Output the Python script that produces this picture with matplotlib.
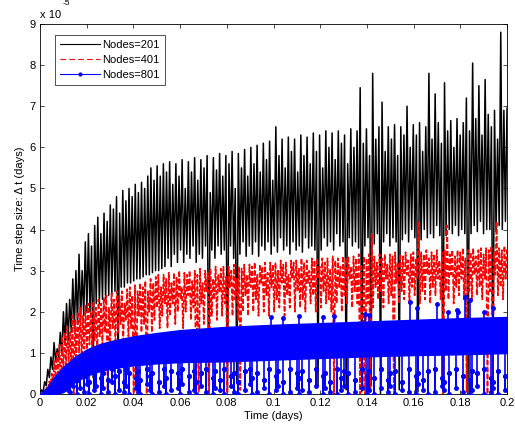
import numpy as np
import matplotlib
matplotlib.use("Agg")
import matplotlib.pyplot as plt
from matplotlib.ticker import FuncFormatter

plt.rcParams['font.family'] = ['Liberation Sans', 'DejaVu Sans']

SCALE = 1e-5  # values below are in units of 1e-5 days

# ---- Nodes=201 (black): alternating trough / peak values ----
black_peaks = [0.1, 0.3, 0.6, 0.9, 1.25, 1.1, 1.5, 2.0, 2.2, 2.3,
               2.8, 3.0, 3.4, 3.0, 3.7, 3.9, 3.6, 4.1, 4.3, 3.9,
               4.4, 4.2, 4.6, 4.5, 4.8, 4.4, 4.95, 4.7, 5.0, 4.8,
               5.1, 4.9, 5.15, 5.0, 5.3, 5.5, 5.2, 5.55, 5.3, 5.6,
               5.4, 5.65, 5.1, 5.6, 5.3, 5.7, 5.0, 5.65, 5.4, 5.75,
               5.2, 5.7, 5.5, 5.8, 4.9, 5.75, 5.45, 5.85, 5.3, 5.8,
               5.6, 5.9, 5.0, 5.85, 5.5, 5.95, 5.3, 6.0, 5.6, 6.05,
               5.4, 6.1, 5.7, 6.15, 5.2, 6.5, 5.8, 6.2, 5.5, 6.25,
               5.9, 6.2, 5.4, 6.3, 5.8, 6.25, 5.6, 6.35, 5.9, 6.3,
               5.5, 6.4, 6.0, 6.35, 5.7, 6.4, 6.1, 6.3, 5.6, 6.45,
               6.0, 6.4, 7.45, 6.1, 6.45, 5.8, 7.8, 6.2, 6.5, 7.1,
               5.9, 6.5, 6.2, 6.55, 5.8, 6.5, 6.3, 7.0, 6.0, 6.55,
               6.3, 6.6, 5.9, 6.5, 7.8, 6.2, 7.3, 6.6, 6.1, 7.57,
               6.4, 6.65, 6.0, 6.7, 6.3, 6.6, 7.2, 6.4, 8.05, 6.7,
               7.5, 6.3, 7.65, 6.8, 6.5, 6.9, 6.2, 8.8, 6.9, 6.95]
black_troughs = [0.0, 0.05, 0.2, 0.4, 0.6, 0.8, 0.9, 1.0, 1.2, 1.3,
                 1.5, 1.6, 1.7, 1.8, 1.9, 2.0, 2.0, 0.4, 2.2, 2.2,
                 2.3, 2.3, 2.4, 2.4, 2.5, 0.6, 2.6, 2.6, 2.7, 2.7,
                 2.75, 2.8, 2.8, 2.85, 2.9, 2.9, 2.95, 3.0, 3.0, 3.05,
                 3.1, 3.3, 3.1, 3.4, 3.2, 3.5, 3.2, 3.4, 3.3, 3.6,
                 3.2, 3.4, 3.3, 3.6, 0.2, 3.5, 3.3, 3.6, 3.4, 3.5,
                 0.1, 3.6, 3.3, 0.3, 3.4, 3.7, 3.35, 3.6, 3.4, 3.7,
                 3.35, 3.6, 3.5, 3.7, 3.4, 3.6, 3.45, 3.8, 3.5, 3.6,
                 3.4, 3.7, 3.5, 3.6, 3.45, 3.8, 3.55, 3.6, 3.5, 0.2,
                 3.5, 3.8, 3.6, 3.7, 3.5, 3.9, 3.6, 3.7, 0.1, 3.8,
                 3.6, 3.7, 3.55, 0.05, 3.6, 3.8, 0.2, 3.65, 3.9, 0.0,
                 3.7, 3.9, 3.6, 3.8, 3.7, 0.1, 3.75, 3.9, 3.7, 4.0,
                 3.8, 0.05, 3.75, 4.0, 3.8, 3.9, 3.8, 4.1, 3.85, 0.1,
                 3.85, 4.0, 3.9, 4.1, 3.85, 4.0, 3.9, 0.0, 3.9, 4.1,
                 3.95, 4.2, 3.9, 4.0, 4.0, 0.1, 3.95, 4.1, 4.0, 4.2]

# ---- Nodes=401 (red dashed) ----
red_peaks = [0.0, 0.05, 0.15, 0.3, 0.5, 0.8, 1.0, 1.2, 1.4, 1.5,
             1.65, 1.5, 1.9, 1.8, 2.0, 2.1, 1.9, 2.15, 2.2, 2.0,
             2.25, 2.1, 2.3, 2.2, 2.35, 2.4, 2.1, 2.45, 2.3, 2.5,
             2.4, 2.5, 2.2, 2.55, 2.6, 2.4, 2.65, 2.5, 2.7, 2.6,
             2.75, 2.5, 2.8, 2.7, 2.85, 2.9, 2.6, 2.9, 2.8, 2.95,
             2.7, 2.95, 2.85, 3.0, 2.6, 2.95, 2.9, 3.0, 2.75, 3.0,
             2.9, 3.05, 2.7, 3.0, 2.95, 3.05, 2.8, 3.1, 2.9, 3.05,
             3.1, 2.85, 3.1, 3.0, 3.15, 2.8, 3.1, 3.05, 3.15, 2.9,
             3.15, 3.1, 3.2, 2.9, 3.15, 3.1, 3.2, 2.95, 3.2, 3.15,
             3.2, 3.0, 3.25, 3.15, 3.2, 2.9, 3.25, 3.2, 3.25, 3.05,
             3.3, 3.2, 3.25, 3.0, 3.3, 3.25, 3.3, 3.1, 3.3, 3.2,
             3.3, 3.05, 3.35, 3.25, 3.3, 3.1, 3.35, 3.3, 3.35, 3.1,
             3.35, 3.3, 3.4, 3.15, 3.35, 3.3, 3.4, 3.9, 3.35, 3.2,
             3.4, 3.3, 3.4, 3.15, 3.4, 3.35, 3.45, 3.2, 3.4, 3.35,
             3.45, 3.25, 3.4, 3.45, 3.3, 4.2, 3.45, 3.4, 3.5, 3.3,
             3.45, 3.4, 3.5, 3.25, 3.45, 3.5, 4.1, 3.4, 3.5, 3.35,
             3.5, 3.45, 3.55, 3.3, 3.5, 3.45, 3.55, 3.35, 3.5, 3.55,
             3.4, 3.55, 3.5, 3.6, 3.45, 4.2, 3.55, 3.5, 3.6, 3.55]
red_troughs = [0.0, 0.0, 0.05, 0.1, 0.2, 0.3, 0.4, 0.5, 0.0, 0.6,
               0.7, 0.8, 0.75, 0.0, 0.9, 1.0, 0.85, 1.1, 1.0, 1.2,
               1.1, 1.3, 1.0, 1.4, 1.2, 1.5, 0.0, 1.3, 1.6, 1.2,
               1.5, 1.7, 1.3, 1.8, 1.4, 1.6, 0.0, 0.1, 1.9, 1.5,
               1.7, 0.0, 2.0, 1.5, 1.8, 2.1, 1.6, 1.9, 2.2, 1.6,
               1.9, 2.2, 1.7, 2.0, 2.3, 1.6, 2.0, 2.4, 1.8, 2.1,
               0.0, 0.05, 2.2, 1.7, 2.5, 0.0, 1.9, 2.3, 1.8, 2.5,
               1.9, 2.2, 0.0, 2.6, 1.9, 2.3, 1.8, 0.1, 2.0, 2.4,
               1.9, 2.6, 2.0, 2.3, 1.9, 2.7, 2.0, 2.4, 1.9, 2.6,
               2.0, 2.3, 2.1, 2.7, 1.9, 2.4, 2.1, 2.8, 2.0, 2.5,
               2.1, 2.3, 2.0, 2.7, 2.2, 2.4, 2.0, 2.8, 2.1, 2.5,
               2.2, 2.3, 2.0, 0.0, 2.2, 2.6, 2.0, 2.4, 2.2, 2.8,
               2.1, 2.5, 2.2, 0.0, 0.1, 0.0, 2.2, 0.05, 2.1, 2.6,
               2.3, 2.5, 2.1, 2.8, 2.2, 2.4, 0.0, 2.7, 2.2, 2.5,
               2.3, 2.9, 2.2, 2.6, 2.4, 2.8, 2.2, 2.5, 2.3, 2.9,
               2.2, 2.6, 2.4, 2.8, 2.3, 0.0, 2.5, 2.3, 2.9, 2.2,
               2.6, 2.4, 2.8, 2.3, 0.05, 2.5, 2.3, 2.9, 2.4, 2.6,
               2.3, 2.8, 0.0, 2.5, 0.1, 2.9, 2.4, 2.6, 2.3, 2.8]

# ---- Nodes=801 (blue): dense band edges + excursions ----
blue_band_t = [0, 0.003, 0.006, 0.01, 0.015, 0.02, 0.025, 0.03, 0.04, 0.05,
               0.06, 0.08, 0.1, 0.12, 0.14, 0.16, 0.18, 0.2]
blue_band_hi = [0, 0.15, 0.4, 0.66, 0.9, 1.08, 1.2, 1.28, 1.4, 1.48,
                1.55, 1.63, 1.68, 1.72, 1.76, 1.8, 1.84, 1.87]
blue_band_lo = [0, 0, 0, 0.05, 0.3, 0.45, 0.55, 0.62, 0.7, 0.75,
                0.78, 0.8, 0.84, 0.88, 0.92, 0.95, 0.97, 1.0]

dip_t = [0.012, 0.013, 0.014, 0.016, 0.017, 0.019, 0.020, 0.021, 0.023, 0.024,
         0.026, 0.027, 0.029, 0.031, 0.032, 0.034, 0.036, 0.037, 0.038, 0.041,
         0.042, 0.043, 0.046, 0.047, 0.048, 0.051, 0.053, 0.054, 0.056, 0.059,
         0.060, 0.061, 0.064, 0.066, 0.067, 0.069, 0.071, 0.074, 0.075, 0.077,
         0.079, 0.082, 0.083, 0.085, 0.088, 0.090, 0.091, 0.093, 0.096, 0.098,
         0.101, 0.102, 0.104, 0.107, 0.110, 0.111, 0.112, 0.115, 0.118, 0.121,
         0.122, 0.124, 0.127, 0.129, 0.130, 0.132, 0.135, 0.138, 0.140, 0.141,
         0.143, 0.146, 0.149, 0.150, 0.152, 0.155, 0.158, 0.161, 0.162, 0.164,
         0.166, 0.169, 0.172, 0.173, 0.175, 0.178, 0.181, 0.184, 0.185, 0.187,
         0.190, 0.193, 0.194, 0.196, 0.199]
dip_top = [0.5, 0.55, 0.6, 0.75, 0.8, 0.9, 0.95, 1.0, 1.0, 1.0] + [1.1] * 85
dip_mid = [0.3, 0.4, 0.5, 0.35, 0.6, 0.45, 0.5, 0.3, 0.55, 0.6,
           0.4, 0.5, 0.35, 0.6, 0.45, 0.55, 0.3, 0.6, 0.5, 0.4,
           0.55, 0.35, 0.6, 0.45, 0.5, 0.3, 0.6, 0.4, 0.55, 0.5,
           0.35, 0.6, 0.45, 0.55, 0.3, 0.5, 0.6, 0.4, 0.55, 0.35,
           0.6, 0.45, 0.5, 0.3, 0.55, 0.6, 0.4, 0.5, 0.35, 0.6,
           0.45, 0.55, 0.3, 0.6, 0.5, 0.4, 0.55, 0.35, 0.6, 0.45,
           0.5, 0.3, 0.6, 0.4, 0.55, 0.5, 0.35, 0.6, 0.45, 0.55,
           0.4, 0.6, 0.35, 0.5, 0.55, 0.3, 0.6, 0.45, 0.5, 0.35,
           0.55, 0.6, 0.4, 0.3, 0.5, 0.6, 0.45, 0.35, 0.55, 0.5,
           0.6, 0.4, 0.3, 0.55, 0.45]
dip_bot = [0.1, 0.05, 0.2, 0.0, 0.15, 0.05, 0.25, 0.0, 0.1, 0.2,
           0.0, 0.15, 0.05, 0.3, 0.0, 0.1, 0.05, 0.2, 0.0, 0.15,
           0.05, 0.0, 0.25, 0.1, 0.0, 0.05, 0.2, 0.0, 0.1, 0.15,
           0.0, 0.25, 0.05, 0.1, 0.0, 0.2, 0.05, 0.0, 0.15, 0.1,
           0.0, 0.2, 0.05, 0.0, 0.1, 0.25, 0.0, 0.05, 0.15, 0.0,
           0.1, 0.2, 0.0, 0.05, 0.15, 0.0, 0.1, 0.05, 0.2, 0.0,
           0.15, 0.05, 0.0, 0.1, 0.2, 0.0, 0.05, 0.15, 0.0, 0.1,
           0.0, 0.15, 0.05, 0.2, 0.0, 0.1, 0.05, 0.0, 0.25, 0.1,
           0.0, 0.05, 0.2, 0.1, 0.0, 0.15, 0.05, 0.0, 0.1, 0.2,
           0.0, 0.05, 0.15, 0.0, 0.1]

spike_t = [0.099, 0.104, 0.111, 0.121, 0.126, 0.139, 0.141, 0.1586, 0.1615,
           0.170, 0.1748, 0.1785, 0.179, 0.182, 0.184, 0.190, 0.194]
spike_v = [1.87, 1.85, 1.9, 1.88, 1.9, 1.95, 1.92, 2.24, 2.1,
           2.2, 2.0, 2.05, 2.0, 2.36, 2.29, 2.0, 2.1]

x_ticks = [0, 0.02, 0.04, 0.06, 0.08, 0.1, 0.12, 0.14, 0.16, 0.18, 0.2]
y_ticks = list(range(10))
legend_labels = ['Nodes=201', 'Nodes=401', 'Nodes=801']


def zigzag(troughs, peaks):
    y = np.empty(2 * len(peaks))
    y[0::2] = troughs
    y[1::2] = peaks
    x = np.linspace(0, 0.2, len(y))
    return x, y * SCALE


fig = plt.figure(figsize=(5.15, 4.32), dpi=100)
ax = fig.add_axes([40 / 515, 38 / 432, 467 / 515, 370 / 432])

xb, yb = zigzag(black_troughs, black_peaks)
ax.plot(xb, yb, color='black', lw=1.1, label=legend_labels[0], zorder=2)

xr, yr = zigzag(red_troughs, red_peaks)
ax.plot(xr, yr, color='red', lw=1.2, ls=(0, (3, 1.2)), label=legend_labels[1],
        zorder=3)

bt = np.array(blue_band_t)
ax.fill_between(bt, np.array(blue_band_lo) * SCALE, np.array(blue_band_hi) * SCALE,
                color='blue', lw=1.2, edgecolor='blue', zorder=5)

# excursions of the blue series (joined with NaN breaks)
xs, ys = [], []
for t, top, mid, bot in zip(dip_t, dip_top, dip_mid, dip_bot):
    xs += [t, t, t, t, np.nan]
    ys += [top, mid, bot, mid, np.nan]
for t, v in zip(spike_t, spike_v):
    xs += [t, t, np.nan]
    ys += [1.5, v, np.nan]
ax.plot(xs, np.array(ys) * SCALE, color='blue', lw=1.2, marker='.', ms=5,
        label=legend_labels[2], zorder=4)

ax.set_xlim(0, 0.2)
ax.set_ylim(0, 9 * SCALE)
ax.set_xticks(x_ticks)
ax.set_yticks([v * SCALE for v in y_ticks])
ax.xaxis.set_major_formatter(FuncFormatter(lambda v, p: f'{v:g}'))
ax.yaxis.set_major_formatter(FuncFormatter(lambda v, p: f'{round(v / SCALE):d}'))
ax.tick_params(direction='in', length=3, width=0.5, top=True, right=True,
               labelsize=8, pad=3)
for s in ax.spines.values():
    s.set_linewidth(0.6)

ax.set_xlabel('Time (days)', fontsize=8, labelpad=2)
ax.set_ylabel('Time step size: Δ t (days)', fontsize=8, labelpad=3)
ax.text(0.0, 1.012, 'x 10', transform=ax.transAxes, fontsize=8,
        ha='left', va='bottom')
ax.text(0.049, 1.045, '-5', transform=ax.transAxes, fontsize=6,
        ha='left', va='bottom')

leg = ax.legend(loc='upper left', bbox_to_anchor=(0.032, 0.97), fontsize=8,
                frameon=True, fancybox=False, edgecolor='black',
                handlelength=3.6, borderpad=0.45, labelspacing=0.45,
                handletextpad=0.2, borderaxespad=0)
leg.get_frame().set_linewidth(0.6)
lh = leg.get_lines()
for h in lh:
    h.set_linewidth(0.8)
    h.set_markersize(4)
lh[1].set_dashes([5, 3])
leg.set_zorder(10)

fig.savefig('out.png', dpi=100)
